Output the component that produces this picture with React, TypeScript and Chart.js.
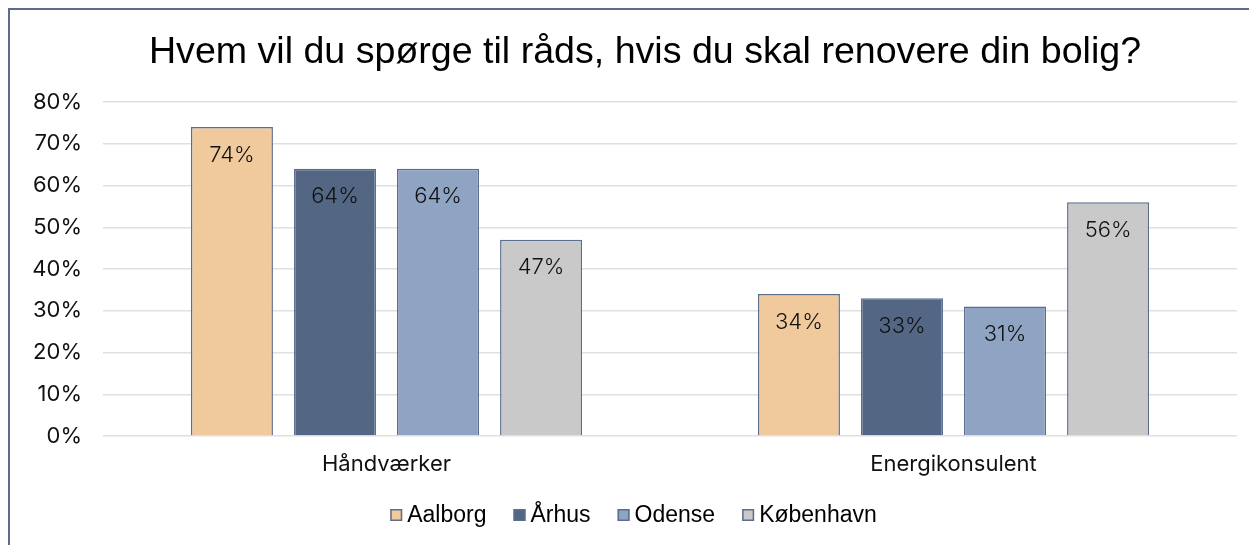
import React, { useEffect, useRef } from "react";
import { Chart, registerables } from "chart.js";

Chart.register(...registerables);

const TITLE = "Hvem vil du spørge til råds, hvis du skal renovere din bolig?";
const categories = ["Håndværker", "Energikonsulent"];
const seriesNames = ["Aalborg", "Århus", "Odense", "København"];
const aalborg = [74, 34];
const aarhus = [64, 33];
const odense = [64, 31];
const kobenhavn = [47, 56];
const yTicks = [0, 10, 20, 30, 40, 50, 60, 70, 80];
const colors = ["#f0ca9c", "#536785", "#8fa3c3", "#c9c9c9"];
const borderColor = "#5b6e8e";

const TICK_FONT = "Inter, 'Open Sans', sans-serif";
const LEGEND_FONT = "'Liberation Sans', Arial, sans-serif";

const overlayPlugin = {
  id: "overlay",
  afterDatasetsDraw(chart: any) {
    const ctx = chart.ctx;
    ctx.save();
    ctx.font = `300 22px ${TICK_FONT}`;
    ctx.fillStyle = "#111111";
    ctx.textAlign = "center";
    ctx.textBaseline = "middle";
    chart.data.datasets.forEach((ds: any, di: number) => {
      const meta = chart.getDatasetMeta(di);
      meta.data.forEach((bar: any, i: number) => {
        ctx.fillText(ds.data[i] + "%", bar.x, bar.y + 28);
      });
    });
    ctx.restore();
  },
  afterDraw(chart: any) {
    const ctx = chart.ctx;
    ctx.save();
    // title
    ctx.font = `400 37.6px ${LEGEND_FONT}`;
    ctx.fillStyle = "#000000";
    ctx.textAlign = "center";
    ctx.textBaseline = "alphabetic";
    ctx.fillText(TITLE, 635, 52.5);
    // legend
    ctx.font = `400 23px ${LEGEND_FONT}`;
    const box = 12;
    const gapBox = 5;
    const gapItem = 27;
    const widths = chart.data.datasets.map((d: any) => ctx.measureText(d.label).width);
    const total = widths.reduce((a: number, w: number) => a + w + box + gapBox, 0) + gapItem * (widths.length - 1);
    let x = chart.width / 2 - total / 2;
    const baseY = 512;
    chart.data.datasets.forEach((d: any, i: number) => {
      ctx.fillStyle = d.backgroundColor;
      ctx.fillRect(x, baseY - 13, box, box);
      ctx.strokeStyle = borderColor;
      ctx.lineWidth = 1.5;
      ctx.strokeRect(x + 0.75, baseY - 13 + 0.75, box - 1.5, box - 1.5);
      ctx.fillStyle = "#000000";
      ctx.textAlign = "left";
      ctx.fillText(d.label, x + box + gapBox, baseY);
      x += box + gapBox + widths[i] + gapItem;
    });
    ctx.restore();
  },
};

export default function App() {
  const ref = useRef<HTMLCanvasElement>(null);
  useEffect(() => {
    if (!ref.current) return;
    const values = [aalborg, aarhus, odense, kobenhavn];
    const chart = new Chart(ref.current, {
      type: "bar",
      data: {
        labels: categories,
        datasets: seriesNames.map((name, i) => ({
          label: name,
          data: values[i],
          backgroundColor: colors[i],
          borderColor: borderColor,
          borderWidth: 1.5,
          categoryPercentage: 0.727,
          barPercentage: 0.796,
        })),
      },
      options: {
        responsive: false,
        animation: false,
        layout: { padding: { top: 92, right: 20, left: 0, bottom: 49 } },
        plugins: {
          legend: { display: false },
          title: { display: false },
          tooltip: { enabled: false },
        },
        scales: {
          x: {
            grid: { display: false, drawTicks: false },
            border: { display: false },
            ticks: {
              font: { family: TICK_FONT, size: 22 },
              color: "#111111",
              padding: 15,
            },
            afterFit: (s: any) => {
              s.height = 60;
            },
          },
          y: {
            min: 0,
            max: 80,
            grid: { color: "#e0e0e0", lineWidth: 1.5, drawTicks: false },
            border: { display: false },
            afterBuildTicks: (s: any) => {
              s.ticks = yTicks.map((v) => ({ value: v }));
            },
            ticks: {
              font: { family: TICK_FONT, size: 22 },
              color: "#111111",
              padding: 21,
              callback: (v: any) => v + "%",
            },
            afterFit: (s: any) => {
              s.width = 93;
            },
          },
        },
      },
      plugins: [overlayPlugin],
    });
    return () => chart.destroy();
  }, []);
  return (
    <div
      style={{
        borderLeft: "2px solid #5b6d8d",
        borderTop: "2px solid #5b6d8d",
        width: 1247,
        height: 535,
        boxSizing: "content-box",
        background: "#ffffff",
      }}
    >
      <canvas ref={ref} width={1247} height={535} style={{ display: "block" }} />
    </div>
  );
}
